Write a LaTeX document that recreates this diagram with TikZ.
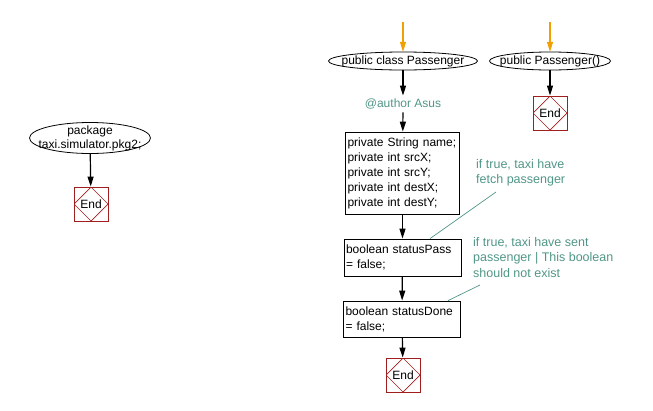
\documentclass[tikz,border=0pt]{standalone}
\usepackage{fontspec}
\setmainfont{Liberation Sans}
\usetikzlibrary{arrows.meta,shapes.geometric,calc}
\definecolor{note}{RGB}{80,150,135}
\definecolor{endred}{RGB}{160,30,30}
\definecolor{startor}{RGB}{240,160,0}
\begin{document}
\begin{tikzpicture}[x=1pt,y=-1pt,
  font=\fontsize{12}{15}\selectfont,
  term/.style={rectangle, inner sep=0pt},
  termline/.style={draw, line width=0.8pt},
  stmt/.style={draw, line width=0.8pt, rectangle, align=left, inner sep=2pt},
  endbox/.style={draw=endred, line width=0.9pt, minimum size=34pt, inner sep=0pt,
    path picture={\draw[endred, line width=0.7pt] (path picture bounding box.north) -- (path picture bounding box.east) -- (path picture bounding box.south) -- (path picture bounding box.west) -- cycle;}},
  arr/.style={draw, line width=1.2pt, -{Triangle[length=10pt,width=6pt]}},
  startarr/.style={draw=startor, line width=1.2pt, -{Triangle[length=10pt,width=6pt]}},
  notetext/.style={text=note, align=left, inner sep=0pt, anchor=north west, font=\fontsize{12.5}{15.5}\selectfont},
  noteline/.style={draw=note, line width=0.7pt}
]
\useasboundingbox (0,0) rectangle (653,410);

% left
\node[term, minimum width=121pt, minimum height=31pt, align=center, font=\fontsize{12}{14}\selectfont] (pkg) at (90,138) {package\\taxi.simulator.pkg2;};
\draw[termline] (pkg.center) ellipse [x radius=60.5, y radius=15.5];
\node[endbox] (e0) at (91,204) {End};
\draw[arr] (pkg) -- (e0);

% main column
\coordinate (s1) at (403,22);
\node[term, minimum width=149pt, minimum height=18pt] (cls) at (403,61) {public class Passenger};
\draw[termline] (cls.center) ellipse [x radius=74.5, y radius=9];
\node[text=note, inner sep=3pt] (auth) at (403,104) {@author Asus};
\node[stmt, text width=110pt, minimum height=82pt] (b1) at (402.5,173) {private String name;\\private int srcX;\\private int srcY;\\private int destX;\\private int destY;};
\node[stmt, text width=113pt, minimum height=37pt] (b2) at (402.5,257.5) {boolean statusPass\\= false;};
\node[stmt, text width=113pt, minimum height=36pt] (b3) at (402,319) {boolean statusDone\\= false;};
\node[endbox] (e1) at (403,375) {End};

\draw[startarr] (s1) -- (cls);
\draw[arr] (cls) -- (auth);
\draw[arr] (auth) -- (b1);
\draw[arr] (b1) -- (b2);
\draw[arr] (b2) -- (b3);
\draw[arr] (b3) -- (e1);

% right column
\coordinate (s2) at (550,22);
\node[term, minimum width=121pt, minimum height=18pt] (ctor) at (550,61) {public Passenger()};
\draw[termline] (ctor.center) ellipse [x radius=60.5, y radius=9];
\node[endbox] (e2) at (550,113) {End};
\draw[startarr] (s2) -- (ctor);
\draw[arr] (ctor) -- (e2);

% comments
\node[notetext] (c1) at (476,159) {if true, taxi have\\fetch passenger};
\node[notetext] (c2) at (473,237) {if true, taxi have sent\\passenger | This boolean\\should not exist};
\coordinate (c1t) at (496,192);
\coordinate (c1h) at (430,238.6);
\coordinate (c2t) at (480,285);
\coordinate (c2h) at (448,300.6);
\draw[noteline] (c1t) -- (c1h);
\draw[noteline] (c2t) -- (c2h);
\end{tikzpicture}
\end{document}
